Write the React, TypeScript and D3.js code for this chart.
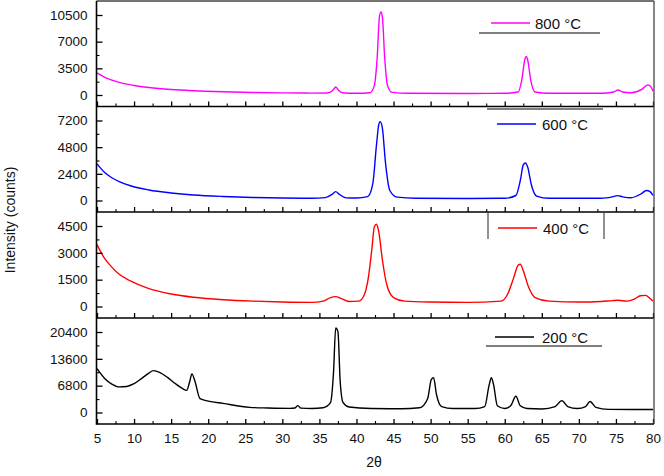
import React, { useEffect, useRef } from "react";
import * as d3 from "d3";

// 2θ (deg) and intensity (counts)
const theta800 = [5, 6, 7, 8, 10, 12, 15, 18, 22, 26, 30, 34, 36, 36.8, 37.2, 37.6, 38.3, 40, 41.8, 42.4, 42.8, 43.1, 43.3, 43.5, 43.8, 44.2, 44.8, 47, 55, 60, 61.8, 62.3, 62.7, 62.9, 63.1, 63.5, 64.1, 66, 73, 74.7, 75.3, 75.9, 77, 78.6, 79.3, 79.7, 80];
const counts800 = [2900, 2350, 1950, 1650, 1250, 980, 720, 560, 420, 330, 280, 250, 270, 600, 1050, 600, 270, 230, 300, 1200, 5000, 10300, 10900, 10200, 5000, 1200, 350, 230, 200, 220, 400, 2000, 4600, 5050, 4600, 2000, 400, 220, 220, 400, 660, 400, 300, 800, 1330, 1100, 500];

const theta600 = [5, 6, 7, 8, 9.5, 12, 15, 18, 22, 26, 30, 34, 35.8, 36.7, 37.2, 37.7, 38.6, 40, 41.5, 42.2, 42.7, 43.0, 43.2, 43.5, 43.9, 44.5, 45.5, 48, 55, 60, 61.5, 62.1, 62.5, 62.8, 63.1, 63.6, 64.3, 66, 73, 74.5, 75.2, 75.9, 77, 78.4, 79.1, 79.6, 80];
const counts600 = [3300, 2550, 2050, 1700, 1330, 950, 680, 500, 360, 270, 220, 200, 260, 550, 800, 550, 240, 220, 350, 1500, 5000, 6800, 7100, 6500, 3500, 900, 300, 200, 180, 200, 450, 1800, 3200, 3380, 3000, 1400, 400, 200, 200, 330, 440, 330, 250, 600, 900, 800, 450];

const theta400 = [5, 6, 7, 8, 9.5, 12, 15, 18, 22, 26, 30, 34, 35.5, 36.5, 37.2, 37.9, 39, 40.3, 41.0, 41.6, 42.1, 42.4, 42.7, 43.0, 43.5, 44.1, 45, 46.5, 50, 55, 59.5, 60.4, 61.2, 61.8, 62.1, 62.5, 63.2, 64.1, 66, 70, 73, 74.5, 75.3, 76.5, 77.5, 78.3, 79.0, 79.6, 80];
const counts400 = [3460, 2700, 2200, 1800, 1430, 1000, 700, 520, 380, 300, 250, 230, 300, 500, 550, 450, 280, 300, 600, 1600, 3300, 4450, 4600, 4200, 2600, 1200, 500, 300, 250, 230, 300, 700, 1600, 2300, 2360, 2000, 1100, 500, 300, 250, 280, 330, 350, 300, 420, 600, 620, 450, 300];

const theta200 = [5, 6, 7, 8, 9, 10, 11, 12, 12.6, 13.5, 14.5, 15.5, 16.5, 17.1, 17.5, 17.8, 18.2, 18.9, 20, 22, 25.6, 28, 31, 31.7, 32.1, 32.5, 34, 35.5, 36.5, 36.9, 37.2, 37.5, 37.8, 38.2, 39, 42, 46, 48.5, 49.6, 50.1, 50.4, 50.8, 51.5, 53, 56, 57.3, 57.9, 58.2, 58.5, 59, 60, 60.8, 61.5, 62.1, 63, 65, 66.8, 67.7, 68.5, 69.8, 70.9, 71.5, 72.3, 74, 77, 80];
const counts200 = [11100, 8700, 7200, 6500, 6600, 7300, 8600, 10000, 10600, 10100, 8900, 7400, 6100, 5600, 7800, 9800, 8000, 3500, 2900, 2300, 1300, 1150, 1050, 1150, 1750, 1100, 1000, 1200, 2500, 10000, 21400, 20500, 8000, 2500, 1400, 1000, 950, 1200, 3500, 8400, 8800, 4500, 1500, 1000, 1000, 1500, 7000, 8800, 7000, 1700, 1000, 1700, 4100, 1700, 1000, 900, 1500, 3000, 1500, 1000, 1500, 2800, 1300, 800, 750, 750];

const ticks800 = [0, 3500, 7000, 10500];
const ticks600 = [0, 2400, 4800, 7200];
const ticks400 = [0, 1500, 3000, 4500];
const ticks200 = [0, 6800, 13600, 20400];

const xTicks = [5, 10, 15, 20, 25, 30, 35, 40, 45, 50, 55, 60, 65, 70, 75, 80];
const seriesNames = ["800 °C", "600 °C", "400 °C", "200 °C"];
const seriesColors = ["#ff00ff", "#0000ff", "#ff0000", "#000000"];

const W = 664, H = 476;
const FONT = "'Liberation Sans', Arial, sans-serif";

export default function App() {
  const ref = useRef<SVGSVGElement>(null);

  useEffect(() => {
    const svg = d3.select(ref.current);
    svg.selectAll("*").remove();

    const left = 96.5, right = 654;
    const x = d3.scaleLinear().domain([5, 80]).range([97, 653]);

    const panels = [
      { theta: theta800, counts: counts800, ticks: ticks800, top: 1, bottom: 106.5 },
      { theta: theta600, counts: counts600, ticks: ticks600, top: 106.5, bottom: 212 },
      { theta: theta400, counts: counts400, ticks: ticks400, top: 212, bottom: 318 },
      { theta: theta200, counts: counts200, ticks: ticks200, top: 318, bottom: 424 },
    ];

    // gray bits of the legend frames, as they show in the figure
    const legendDeco = [
      { sx: 491, tx: 535, y: 23, lines: [[479, 33, 600, 33]] },
      { sx: 497, tx: 542, y: 124, lines: [[487, 109, 603, 109]] },
      { sx: 498, tx: 543, y: 228, lines: [[488, 213, 488, 239], [604, 213, 604, 239]] },
      { sx: 495, tx: 542, y: 337, lines: [[486, 346, 602, 346]] },
    ];

    const defs = svg.append("defs");
    const fmt = d3.format("d");

    panels.forEach((p, i) => {
      const top = p.ticks[p.ticks.length - 1];
      const y = d3.scaleLinear().domain([0, top]).range([p.bottom - 11.5, p.top + 14]);

      defs.append("clipPath").attr("id", `clip${i}`)
        .append("rect")
        .attr("x", left).attr("y", p.top)
        .attr("width", right - left).attr("height", p.bottom - p.top);

      const pts = p.theta.map((t, k) => [t, p.counts[k]] as [number, number]);
      const line = d3.line<[number, number]>()
        .x(d => x(d[0]))
        .y(d => y(d[1]))
        .curve(d3.curveMonotoneX);

      svg.append("path")
        .attr("clip-path", `url(#clip${i})`)
        .attr("d", line(pts))
        .attr("fill", "none")
        .attr("stroke", seriesColors[i])
        .attr("stroke-width", 1.4);

      // y axis, ticks pointing in
      const yAxis = svg.append("g")
        .attr("transform", `translate(${left},0)`)
        .call(d3.axisLeft(y).tickValues(p.ticks).tickSize(-6).tickPadding(9).tickFormat(fmt));
      yAxis.select(".domain").remove();
      yAxis.selectAll("text").attr("font-size", 13.5).attr("font-family", FONT).attr("fill", "#111");
      yAxis.selectAll("line").attr("stroke", "#000").attr("stroke-width", 1.3);

      const minorY = p.ticks.slice(1).map((v, k) => (v + p.ticks[k]) / 2);
      const yMinor = svg.append("g")
        .attr("transform", `translate(${left},0)`)
        .call(d3.axisLeft(y).tickValues(minorY).tickSize(-3).tickFormat(() => ""));
      yMinor.select(".domain").remove();
      yMinor.selectAll("line").attr("stroke", "#000").attr("stroke-width", 1.1);

      // x ticks at the bottom of each panel
      const xAxis = svg.append("g")
        .attr("transform", `translate(0,${p.bottom})`)
        .call(d3.axisBottom(x).tickValues(xTicks).tickSize(-5).tickPadding(9)
          .tickFormat(i === 3 ? fmt : () => ""));
      xAxis.select(".domain").remove();
      xAxis.selectAll("text").attr("font-size", 13.5).attr("font-family", FONT).attr("fill", "#111");
      xAxis.selectAll("line").attr("stroke", "#000").attr("stroke-width", 1.3);

      const minorX = xTicks.slice(1).map((v, k) => (v + xTicks[k]) / 2);
      const xMinor = svg.append("g")
        .attr("transform", `translate(0,${p.bottom})`)
        .call(d3.axisBottom(x).tickValues(minorX).tickSize(-3).tickFormat(() => ""));
      xMinor.select(".domain").remove();
      xMinor.selectAll("line").attr("stroke", "#000").attr("stroke-width", 1.1);

      // panel separator
      svg.append("line")
        .attr("x1", left).attr("x2", right)
        .attr("y1", p.bottom).attr("y2", p.bottom)
        .attr("stroke", "#000").attr("stroke-width", 1.6);

      // legend
      const lg = legendDeco[i];
      svg.append("line")
        .attr("x1", lg.sx).attr("x2", lg.sx + 39)
        .attr("y1", lg.y).attr("y2", lg.y)
        .attr("stroke", seriesColors[i]).attr("stroke-width", 1.4);
      svg.append("text")
        .attr("x", lg.tx).attr("y", lg.y + 5.5)
        .attr("font-size", 15).attr("font-family", FONT).attr("fill", "#111")
        .text(seriesNames[i]);
      lg.lines.forEach(([x1, y1, x2, y2]) => {
        svg.append("line")
          .attr("x1", x1).attr("y1", y1).attr("x2", x2).attr("y2", y2)
          .attr("stroke", "#555").attr("stroke-width", 1.3);
      });
    });

    // frame
    svg.append("line").attr("x1", left).attr("x2", right).attr("y1", 1).attr("y2", 1)
      .attr("stroke", "#444").attr("stroke-width", 1.3);
    svg.append("line").attr("x1", right).attr("x2", right).attr("y1", 1).attr("y2", 424)
      .attr("stroke", "#444").attr("stroke-width", 1.3);
    svg.append("line").attr("x1", left).attr("x2", left).attr("y1", 1).attr("y2", 424.8)
      .attr("stroke", "#000").attr("stroke-width", 1.6);

    svg.append("text")
      .attr("transform", "translate(15,220) rotate(-90)")
      .attr("text-anchor", "middle")
      .attr("font-size", 14).attr("font-family", FONT).attr("fill", "#111")
      .text("Intensity (counts)");

    svg.append("text")
      .attr("x", 374).attr("y", 467)
      .attr("text-anchor", "middle")
      .attr("font-size", 14).attr("font-family", FONT).attr("fill", "#111")
      .text("2θ");
  }, []);

  return (
    <svg ref={ref} width={W} height={H}
      style={{ position: "absolute", left: 0, top: 0, background: "#fff" }} />
  );
}
